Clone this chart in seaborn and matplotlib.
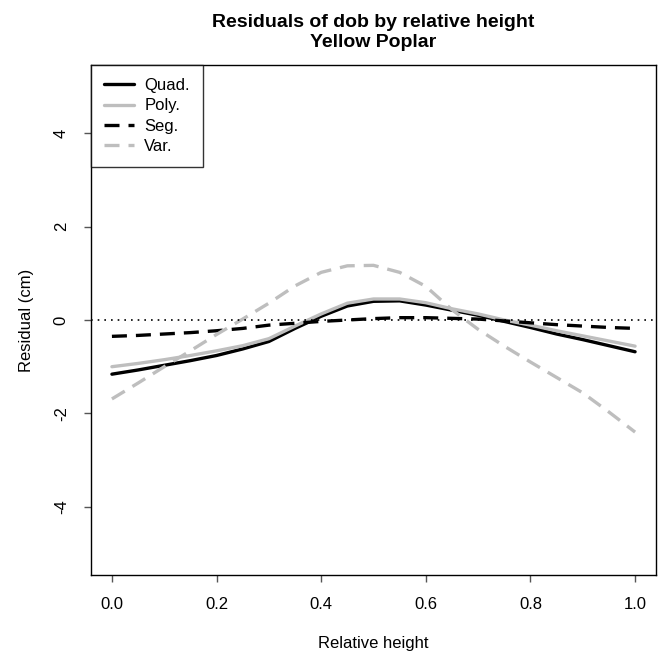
import numpy as np
import pandas as pd
import matplotlib
matplotlib.use("Agg")
import matplotlib.pyplot as plt
import seaborn as sns

# ---- data ----
rel_height = [0.00, 0.05, 0.10, 0.15, 0.20, 0.25, 0.30, 0.35, 0.40, 0.45, 0.50,
              0.55, 0.60, 0.65, 0.70, 0.75, 0.80, 0.85, 0.90, 0.95, 1.00]
quad = [-1.16, -1.07, -0.97, -0.87, -0.76, -0.62, -0.46, -0.18, 0.08, 0.30, 0.40,
        0.41, 0.32, 0.21, 0.10, -0.03, -0.16, -0.30, -0.42, -0.55, -0.68]
poly = [-1.00, -0.93, -0.85, -0.76, -0.66, -0.55, -0.40, -0.13, 0.13, 0.36, 0.45,
        0.45, 0.37, 0.24, 0.13, 0.00, -0.11, -0.23, -0.34, -0.45, -0.56]
seg = [-0.35, -0.33, -0.30, -0.27, -0.23, -0.18, -0.11, -0.07, -0.03, 0.00, 0.03,
       0.05, 0.05, 0.035, 0.02, -0.02, -0.06, -0.10, -0.13, -0.16, -0.18]
var = [-1.69, -1.35, -1.00, -0.66, -0.31, 0.02, 0.36, 0.73, 1.02, 1.16, 1.17,
       1.02, 0.72, 0.22, -0.20, -0.56, -0.90, -1.23, -1.56, -1.97, -2.40]
series_names = ["Quad.", "Poly.", "Seg.", "Var."]
x_ticks = [0.0, 0.2, 0.4, 0.6, 0.8, 1.0]
x_tick_labels = ["0.0", "0.2", "0.4", "0.6", "0.8", "1.0"]
y_ticks = [-4, -2, 0, 2, 4]
y_tick_labels = ["-4", "-2", "0", "2", "4"]

sns.set_style("white")
plt.rcParams["font.family"] = ["Liberation Sans", "DejaVu Sans"]
plt.rcParams["text.color"] = "black"
plt.rcParams["axes.labelcolor"] = "black"

df = pd.DataFrame({"x": rel_height, "Quad.": quad, "Poly.": poly,
                   "Seg.": seg, "Var.": var})

fig = plt.figure(figsize=(6.65, 6.56), dpi=100)
ax = fig.add_axes([91 / 665, 1 - 575 / 656, (656 - 91) / 665, (575 - 65) / 656])

gray = "#bebebe"
dash = (0, (4.5, 2.7))
styles = {
    "Quad.": dict(color="black", ls="-"),
    "Poly.": dict(color=gray, ls="-"),
    "Seg.": dict(color="black", ls=dash),
    "Var.": dict(color=gray, ls=dash),
}
for name in series_names:
    st = styles[name]
    sns.lineplot(data=df, x="x", y=name, ax=ax, color=st["color"],
                 linestyle=st["ls"], linewidth=2.4, label=name,
                 dash_capstyle="butt", solid_capstyle="round",
                 solid_joinstyle="round")

ax.axhline(0, color="black", linestyle=(0, (1, 3)), linewidth=1.2, zorder=5)

ax.set_xlim(-0.04, 1.04)
ax.set_ylim(-5.46, 5.46)
ax.set_xticks(x_ticks)
ax.set_xticklabels(x_tick_labels, fontsize=12)
ax.set_yticks(y_ticks)
ax.set_yticklabels(y_tick_labels, fontsize=12, rotation=90, va="center")
ax.tick_params(axis="both", direction="out", length=5, width=1,
               color="#555555", labelcolor="black", pad=11,
               bottom=True, left=True)
for sp in ax.spines.values():
    sp.set_color("black")
    sp.set_linewidth(1.0)

ax.set_xlabel("Relative height", fontsize=12, labelpad=17)
ax.set_ylabel("Residual (cm)", fontsize=12, labelpad=14)
ax.set_title("Residuals of dob by relative height\nYellow Poplar",
             fontsize=14, fontweight="bold", pad=13, linespacing=1.25,
             color="black")

leg = ax.legend(loc="upper left", frameon=True, fancybox=False,
                edgecolor="black", borderaxespad=0, fontsize=12,
                handlelength=1.8, labelspacing=0.31, borderpad=0.8,
                handletextpad=0.6)
leg.get_frame().set_linewidth(1.0)
for t in leg.get_texts():
    t.set_color("black")

fig.savefig("out.png", dpi=100)
